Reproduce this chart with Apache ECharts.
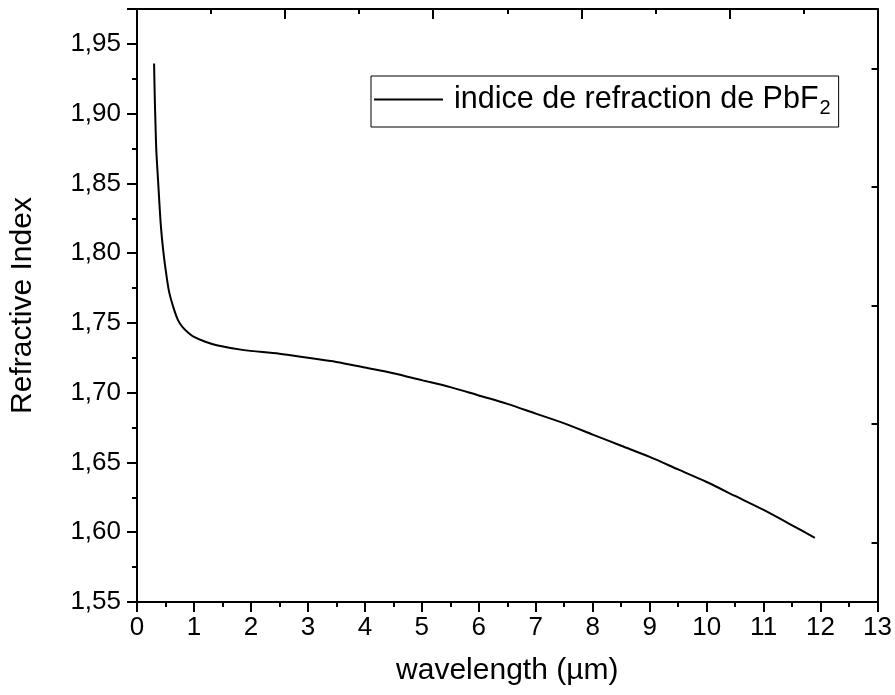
<!DOCTYPE html>
<html>
<head>
<meta charset="utf-8">
<script src="https://cdn.jsdelivr.net/npm/echarts@6/dist/echarts.min.js"></script>
<style>html,body{margin:0;padding:0;background:#fff}#c{width:895px;height:695px}</style>
</head>
<body>
<div id="c"></div>
<script>
const wavelength = [0.3, 0.31, 0.32, 0.34, 0.37, 0.39, 0.42, 0.46, 0.5, 0.56, 0.64, 0.72, 0.8, 0.9, 1.0, 1.2, 1.4, 1.85, 2.5, 3, 3.5, 4, 4.5, 5, 5.5, 6, 6.5, 7, 7.5, 8, 8.5, 9, 9.5, 10, 10.5, 11, 11.5, 11.9];
const refractiveIndex = [1.936, 1.915, 1.899, 1.873, 1.852, 1.838, 1.819, 1.802, 1.789, 1.773, 1.761, 1.752, 1.747, 1.743, 1.740, 1.7365, 1.734, 1.7307, 1.728, 1.725, 1.722, 1.718, 1.714, 1.709, 1.704, 1.698, 1.692, 1.685, 1.678, 1.670, 1.662, 1.654, 1.645, 1.636, 1.626, 1.616, 1.605, 1.596];
const seriesName = 'indice de refraction de PbF2';
const xTicks = [0, 13, 1];           // min, max, interval
const yTicks = [1.55, 1.975, 0.05];  // min, max, interval
const topTicks = [0, 10, 2];
const rightTickValues = [0.5, 1.5, 2.5, 3.5, 4.5];

const data = wavelength.map((x, i) => [x, refractiveIndex[i]]);
const font = 'Liberation Sans, Arial, sans-serif';
const chart = echarts.init(document.getElementById('c'), null, {renderer: 'canvas'});
const lineStyle = {color: '#000', width: 2};
chart.setOption({
  backgroundColor: '#fff',
  animation: false,
  grid: {left: 137, right: 13, top: 9, bottom: 93, containLabel: false},
  legend: {
    show: true,
    left: 371, top: 76,
    orient: 'horizontal',
    borderColor: '#000', borderWidth: 1, borderRadius: 0,
    padding: [8, 8, 9, 3],
    itemWidth: 69, itemHeight: 2, itemGap: 0,
    icon: 'rect',
    data: [{name: seriesName, icon: 'rect', itemStyle: {color: '#000'}}],
    formatter: function () { return '{a|indice de refraction de PbF}{b|2}'; },
    textStyle: {
      fontFamily: font, fontSize: 30.5, color: '#000', padding: [0, 0, 0, 6],
      rich: {
        a: {fontFamily: font, fontSize: 30.5, color: '#000'},
        b: {fontFamily: font, fontSize: 20, color: '#000', verticalAlign: 'bottom', padding: [17, 0, 0, 1]}
      }
    }
  },
  xAxis: [{
    type: 'value', position: 'bottom',
    min: xTicks[0], max: xTicks[1], interval: xTicks[2],
    name: 'wavelength (µm)', nameLocation: 'middle', nameGap: 54,
    nameTextStyle: {fontFamily: font, fontSize: 30, color: '#000'},
    axisLine: {show: true, onZero: false, lineStyle: lineStyle},
    axisTick: {show: true, inside: false, length: 10, lineStyle: lineStyle},
    minorTick: {show: true, splitNumber: 2, length: 5, lineStyle: lineStyle},
    axisLabel: {fontFamily: font, fontSize: 26, color: '#000', margin: 13},
    splitLine: {show: false}
  }, {
    type: 'value', position: 'top',
    min: topTicks[0], max: topTicks[1], interval: topTicks[2],
    axisLine: {show: true, onZero: false, lineStyle: lineStyle},
    axisTick: {show: true, inside: true, length: 10, lineStyle: lineStyle},
    minorTick: {show: true, splitNumber: 2, length: 5, lineStyle: lineStyle},
    axisLabel: {show: false},
    splitLine: {show: false}
  }],
  yAxis: [{
    type: 'value', position: 'left',
    min: yTicks[0], max: yTicks[1], interval: yTicks[2],
    name: 'Refractive Index', nameLocation: 'middle', nameGap: 99,
    nameTextStyle: {fontFamily: font, fontSize: 30, color: '#000'},
    axisLine: {show: true, onZero: false, lineStyle: lineStyle},
    axisTick: {show: true, inside: false, length: 10, lineStyle: lineStyle},
    minorTick: {show: true, splitNumber: 2, length: 5, lineStyle: lineStyle},
    axisLabel: {
      fontFamily: font, fontSize: 26, color: '#000', margin: 16,
      showMaxLabel: false,
      formatter: v => (Math.abs(v - yTicks[1]) < 1e-9 ? '' : v.toFixed(2).replace('.', ','))
    },
    splitLine: {show: false}
  }, {
    type: 'value', position: 'right',
    min: 0, max: 5,
    axisLine: {show: true, onZero: false, lineStyle: lineStyle},
    axisTick: {show: true, inside: true, length: 6, lineStyle: lineStyle, customValues: rightTickValues},
    axisLabel: {show: false},
    splitLine: {show: false}
  }],
  series: [{
    name: seriesName,
    type: 'line',
    xAxisIndex: 0, yAxisIndex: 0,
    data: data,
    smooth: 0.3,
    showSymbol: false,
    symbol: 'none',
    lineStyle: {color: '#000', width: 2},
    itemStyle: {color: '#000'}
  }]
});
</script>
</body>
</html>
